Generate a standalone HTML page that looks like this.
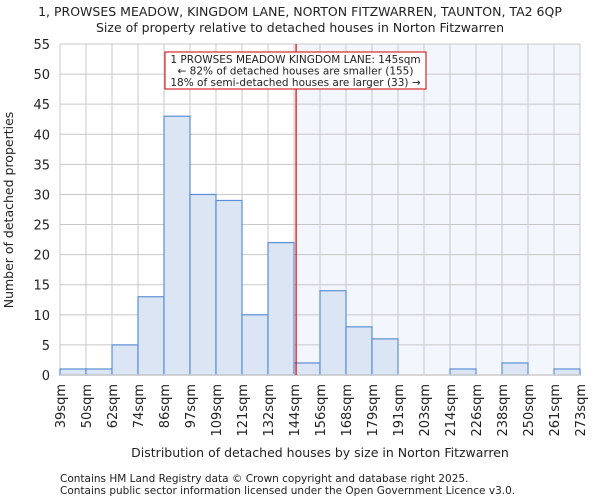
<!DOCTYPE html>
<html><head><meta charset="utf-8"><style>
body{margin:0;background:#fff;font-family:"DejaVu Sans","Liberation Sans",sans-serif}
svg text{font-family:"DejaVu Sans","Liberation Sans",sans-serif;fill:#222}
</style></head><body>
<svg id="c" width="600" height="500" viewBox="0 0 600 500"></svg>
<script>
const categories=["39sqm","50sqm","62sqm","74sqm","86sqm","97sqm","109sqm","121sqm","132sqm","144sqm","156sqm","168sqm","179sqm","191sqm","203sqm","214sqm","226sqm","238sqm","250sqm","261sqm","273sqm"];
const counts=[1,1,5,13,43,30,29,10,22,2,14,8,6,0,0,1,0,2,0,1];
const yTicks=[0,5,10,15,20,25,30,35,40,45,50,55];
const markerBin=9.08;
const svg=document.getElementById('c');
const NS='http://www.w3.org/2000/svg';
const X0=60,X1=580,Y0=375,Y1=44,YMAX=55;
const bw=(X1-X0)/counts.length;
const xs=i=>X0+i*bw;
const ys=v=>Y0-(v/YMAX)*(Y0-Y1);
function mk(t,a,p){const e=document.createElementNS(NS,t);for(const k in a)e.setAttribute(k,a[k]);(p||svg).appendChild(e);return e;}
function txt(s,a){const e=mk('text',a);e.textContent=s;return e;}
let t=txt('1, PROWSES MEADOW, KINGDOM LANE, NORTON FITZWARREN, TAUNTON, TA2 6QP',{x:300,y:16,'text-anchor':'middle','font-size':12.5});


t=txt('Size of property relative to detached houses in Norton Fitzwarren',{x:300,y:32,'text-anchor':'middle','font-size':12.5});


const mx=xs(markerBin);
let r=mk('rect',{x:mx,y:Y1,width:X1-mx,height:Y0-Y1,fill:'#f3f6fd'});


for(const v of yTicks){let l=mk('line',{x1:X0,x2:X1,y1:ys(v),y2:ys(v),stroke:'#c8c8c8','stroke-width':1});


let tt=txt(String(v),{x:X0-10,y:ys(v)+5,'text-anchor':'end','font-size':13});

}
categories.forEach((c,i)=>{let x=xs(i);let l=mk('line',{x1:x,x2:x,y1:Y1,y2:Y0,stroke:'#c8c8c8','stroke-width':1});


let tt=txt(c,{x:0,y:0,'text-anchor':'end','font-size':13,transform:`translate(${x+5},${Y0+9}) rotate(-90)`});

});
counts.forEach((v,i)=>{if(v<=0)return;let b=mk('rect',{x:xs(i),y:ys(v),width:bw,height:Y0-ys(v),fill:'#dbe5f4',stroke:'#5b8fd6','stroke-width':1.2});

});
let ax=mk('line',{x1:X0,x2:X1,y1:Y0,y2:Y0,stroke:'#ccc','stroke-width':1.5});


let ml=mk('line',{x1:mx,x2:mx,y1:Y1,y2:Y0,stroke:'#d00','stroke-width':1.2});


let g=mk('g',{});


mk('rect',{x:165,y:52,width:261,height:37,fill:'#fff',stroke:'#c00','stroke-width':1},g);
[['1 PROWSES MEADOW KINGDOM LANE: 145sqm',63],['← 82% of detached houses are smaller (155)',74.5],['18% of semi-detached houses are larger (33) →',86]].forEach(([s,y])=>{let e=document.createElementNS(NS,'text');e.setAttribute('x',295.5);e.setAttribute('y',y);e.setAttribute('text-anchor','middle');e.setAttribute('font-size',10.5);e.textContent=s;g.appendChild(e);});
t=txt('Number of detached properties',{x:0,y:0,'text-anchor':'middle','font-size':12.5,transform:'translate(13,210) rotate(-90)'});


t=txt('Distribution of detached houses by size in Norton Fitzwarren',{x:320,y:457,'text-anchor':'middle','font-size':12.5});


t=txt('Contains HM Land Registry data © Crown copyright and database right 2025.',{x:60,y:482,'font-size':10.5,fill:'#444'});


t=txt('Contains public sector information licensed under the Open Government Licence v3.0.',{x:60,y:494,'font-size':10.5,fill:'#444'});


</script></body></html>
